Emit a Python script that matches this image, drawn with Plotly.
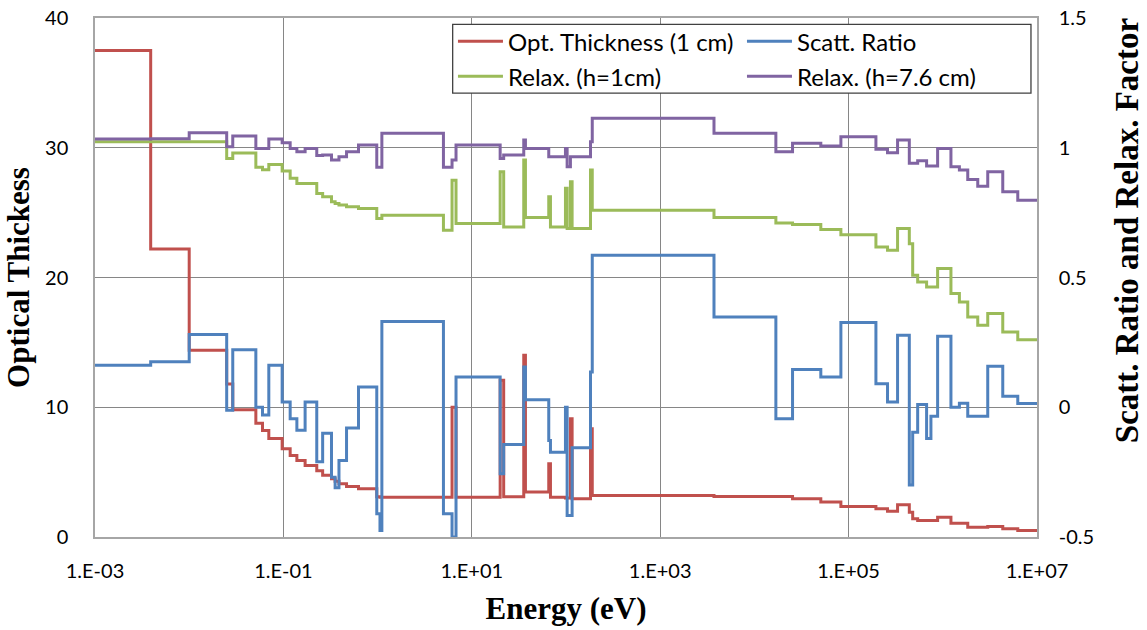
import plotly.graph_objects as go

# Group start energies (eV); last group ends at 1e7 eV
energy = [1e-3, 3.9e-3, 1e-2, 0.025, 0.029, 0.051, 0.060, 0.070, 0.097, 0.118,
          0.139, 0.170, 0.226, 0.261, 0.324, 0.354, 0.389, 0.468, 0.627, 0.98,
          1.06, 1.11, 5.0, 6.17, 6.8, 20, 21.8, 35.6, 37.1, 65.6,
          68.4, 98.7, 102.8, 111.4, 116.1, 182, 190, 3724, 1.69e4, 2.54e4,
          5.07e4, 8.28e4, 1.95e5, 2.59e5, 3.31e5, 4.41e5, 4.79e5, 5.41e5, 6.73e5, 7.48e5,
          8.81e5, 1.22e6, 1.50e6, 1.84e6, 2.35e6, 3.0e6, 4.33e6, 6.25e6]
energy_end = 1e7

opt_thickness = [37.5, 22.2, 14.4, 11.8, 9.8, 8.76, 8.2, 7.6, 6.8, 6.29,
                 5.9, 5.52, 5.1, 4.75, 4.49, 4.3, 4.1, 3.9, 3.72, 3.1,
                 3.07, 3.07, 3.07, 10.0, 3.07, 12.08, 3.1, 14.0, 3.46, 5.65,
                 3.07, 3.0, 3.0, 9.12, 2.95, 8.35, 3.2, 3.12, 3.12, 2.95,
                 2.69, 2.35, 2.17, 1.99, 2.48, 1.9, 1.4, 1.27, 1.27, 1.27,
                 1.53, 1.06, 1.06, 0.76, 0.76, 0.8, 0.63, 0.5]

scatt_ratio = [0.162, 0.175, 0.28, -0.012, 0.222, 0.0, -0.03, 0.162, 0.02, -0.044,
               -0.089, 0.02, -0.21, -0.10, -0.27, -0.31, -0.205, -0.08, 0.078, -0.41,
               -0.475, 0.33, -0.41, -0.5, 0.117, -0.256, -0.144, 0.155, 0.029, -0.128,
               -0.173, 0.0, -0.417, -0.417, -0.156, 0.136, 0.586, 0.348, -0.044, 0.145,
               0.117, 0.327, 0.091, 0.02, 0.277, -0.30, -0.096, 0.011, -0.12, -0.035,
               0.274, 0.0, 0.015, -0.035, -0.035, 0.158, 0.042, 0.014]

relax_h1 = [30.46, 30.46, 30.46, 29.18, 29.6, 28.5, 28.3, 28.7, 28.2, 27.64,
            27.25, 27.25, 26.48, 26.22, 25.83, 25.7, 25.58, 25.45, 25.32, 24.55,
            24.55, 24.8, 23.65, 27.5, 24.17, 28.15, 23.9, 29.05, 24.63, 26.22,
            23.9, 26.87, 23.78, 27.38, 23.78, 28.28, 25.19, 24.63, 24.21, 24.09,
            23.70, 23.3, 22.36, 22.1, 23.78, 22.6, 20.18, 19.66, 19.27, 19.27,
            20.69, 18.77, 18.12, 16.96, 16.32, 17.22, 15.8, 15.21]

relax_h76 = [30.67, 30.7, 31.16, 30.08, 30.9, 29.95, 29.95, 30.67, 30.39, 29.95,
             29.69, 29.95, 29.4, 29.44, 29.05, 29.05, 29.3, 29.7, 30.21, 28.5,
             28.5, 31.11, 28.5, 29.05, 30.21, 29.18, 29.44, 30.6, 29.95, 29.31,
             29.31, 29.95, 28.53, 29.31, 29.31, 30.46, 32.27, 31.11, 29.69, 30.34,
             30.13, 30.85, 29.88, 29.62, 30.59, 28.8, 28.8, 29.0, 28.59, 28.59,
             29.95, 28.53, 28.28, 27.56, 27.04, 28.15, 26.6, 25.96]

x_tickvals = [1e-3, 1e-1, 1e1, 1e3, 1e5, 1e7]
x_ticktext = ["1.E-03", "1.E-01", "1.E+01", "1.E+03", "1.E+05", "1.E+07"]
y_tickvals = [0, 10, 20, 30, 40]
y2_tickvals = [-0.5, 0, 0.5, 1, 1.5]
y2_ticktext = ["-0.5", "0", "0.5", "1", "1.5"]

xs = energy + [energy_end]


def ext(vals):
    return vals + [vals[-1]]


fig = go.Figure()
series = [
    ("Opt. Thickness (1 cm)", opt_thickness, "#C0504D", "y", "legend"),
    ("Scatt. Ratio", scatt_ratio, "#4F81BD", "y2", "legend2"),
    ("Relax. (h=1cm)", relax_h1, "#9BBB59", "y", "legend"),
    ("Relax. (h=7.6 cm)", relax_h76, "#8064A2", "y", "legend2"),
]
for name, vals, color, ax, leg in series:
    fig.add_trace(go.Scatter(x=xs, y=ext(vals), name=name, mode="lines",
                             line=dict(color=color, width=3, shape="hv"),
                             yaxis=ax, legend=leg, legendgroup=name))

tick_font = dict(family="Lato, Open Sans, sans-serif", size=20, color="#000000")
title_font = dict(family="Liberation Serif, serif", size=31, color="#000000")
leg_font = dict(family="Lato, Open Sans, sans-serif", size=24, color="#000000")
clear = "rgba(0,0,0,0)"

fig.update_layout(
    width=1147, height=630,
    margin=dict(l=95, r=110, t=18, b=93, autoexpand=False),
    paper_bgcolor="white", plot_bgcolor="white",
    xaxis=dict(type="log", range=[-3, 7], tickvals=x_tickvals, ticktext=x_ticktext,
               showgrid=True, gridcolor="#868686", gridwidth=1,
               showline=True, linecolor="#A6A6A6", linewidth=1.5, mirror=True,
               ticks="outside", ticklen=15, tickcolor=clear, tickfont=tick_font,
               automargin=False,
               title=dict(text="<b>Energy (eV)</b>", font=title_font, standoff=17)),
    yaxis=dict(range=[0, 40], tickvals=y_tickvals, showgrid=True,
               gridcolor="#868686", gridwidth=1, zeroline=False,
               showline=True, linecolor="#A6A6A6", linewidth=1.5,
               ticks="outside", ticklen=21, tickcolor=clear, tickfont=tick_font,
               automargin=False,
               title=dict(text="<b>Optical Thickess</b>", font=title_font, standoff=6)),
    yaxis2=dict(range=[-0.5, 1.5], tickvals=y2_tickvals, ticktext=y2_ticktext,
                overlaying="y", side="right", showgrid=False, zeroline=False,
                showline=True, linecolor="#A6A6A6", linewidth=1.5,
                ticks="outside", ticklen=16, tickcolor=clear, tickfont=tick_font,
                automargin=False),
    legend=dict(orientation="v", x=0.380, y=0.998, xanchor="left", yanchor="top",
                bgcolor=clear, borderwidth=0, font=leg_font, itemwidth=45,
                tracegroupgap=1, traceorder="grouped"),
    legend2=dict(orientation="v", x=0.6868, y=0.998, xanchor="left", yanchor="top",
                 bgcolor=clear, borderwidth=0, font=leg_font, itemwidth=45,
                 tracegroupgap=1, traceorder="grouped"),
    shapes=[dict(type="rect", xref="paper", yref="paper",
                 x0=0.3797, x1=0.9936, y0=0.8554, y1=0.9879,
                 line=dict(color="#404040", width=1.3), fillcolor="white",
                 layer="above")],
    annotations=[dict(text="<b>Scatt. Ratio and Relax. Factor</b>", textangle=-90,
                      xref="paper", yref="paper", x=1.0949, y=0.59,
                      xanchor="center", yanchor="middle", showarrow=False,
                      font=dict(family="Liberation Serif, serif", size=33, color="#000000"))],
    showlegend=True,
)

fig.write_html("out.html")
